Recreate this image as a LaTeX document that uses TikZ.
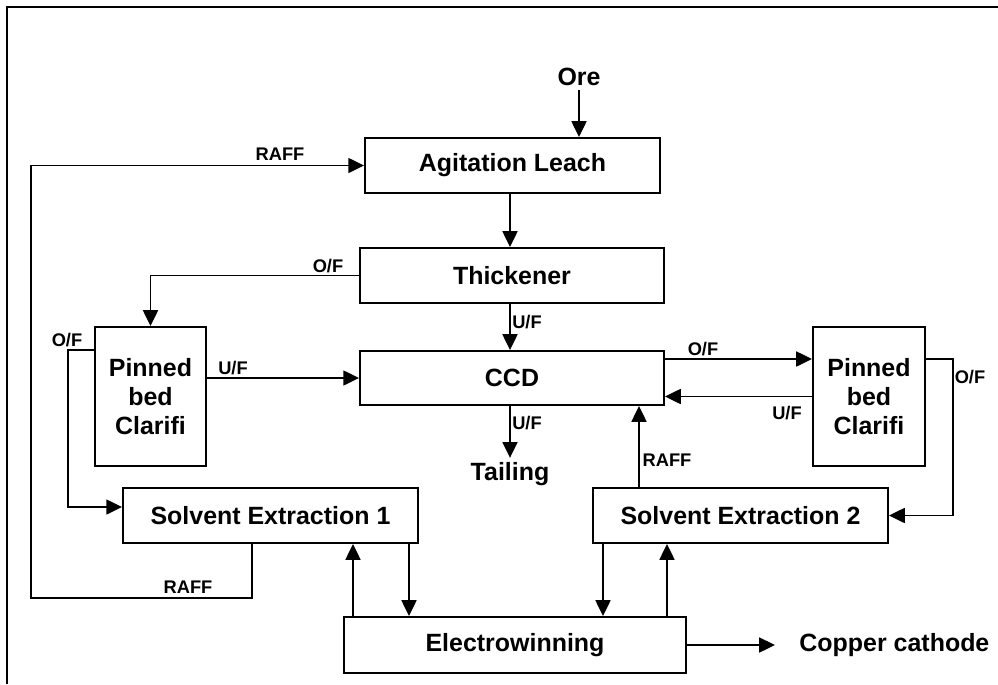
\documentclass[tikz,border=0pt]{standalone}
\usepackage{fontspec}
\setmainfont{Liberation Sans}
\usetikzlibrary{arrows.meta}
\tikzset{
  unit/.style={draw, line width=1.1pt, align=center, inner sep=2pt,
    font=\fontsize{14.2}{16.4}\selectfont\bfseries},
  tag/.style={inner sep=1pt, font=\fontsize{10.4}{12}\selectfont\bfseries},
  flow/.style={line width=1.1pt, -{Triangle[length=9pt,width=8.5pt]}},
  pipe/.style={line width=1.1pt}
}
\begin{document}
\begin{tikzpicture}[x=0.02cm, y=-0.02cm]
  \useasboundingbox (0,0) rectangle (998,684);
  \draw[line width=1.7pt] (7,684) -- (7,7) -- (998,7);
  % process units
  \node[unit, minimum width=5.9cm, minimum height=1.1cm] (leach) at (512.5,165.5) {Agitation Leach};
  \node[unit, minimum width=6.08cm, minimum height=1.1cm] (thick) at (512,275.5) {Thickener};
  \node[unit, minimum width=6.08cm, minimum height=1.08cm] (ccd) at (512,378) {CCD};
  \node[unit, minimum width=2.22cm, minimum height=2.78cm] (pinL) at (150.5,396.5) {Pinned\\bed\\Clarifi};
  \node[unit, minimum width=2.24cm, minimum height=2.78cm] (pinR) at (869,396.5) {Pinned\\bed\\Clarifi};
  \node[unit, minimum width=5.9cm, minimum height=1.1cm] (sx1) at (270.5,515.5) {Solvent Extraction 1};
  \node[unit, minimum width=5.9cm, minimum height=1.1cm] (sx2) at (740.5,515.5) {Solvent Extraction 2};
  \node[unit, minimum width=6.84cm, minimum height=1.12cm] (ew) at (515,645) {Electrowinning};
  % feed and products
  \node[unit, draw=none] (ore) at (579,77) {Ore};
  \node[unit, draw=none] (tail) at (510,474) {Tailing};
  \node[unit, draw=none, anchor=west] (cath) at (795,645) {Copper cathode};
  \coordinate (cathtip) at (775,645);
  % main line
  \draw[flow] (ore.south) -- (ore.south |- leach.north);
  \draw[flow] (leach.south -| 510,0) -- (thick.north -| 510,0);
  \draw[flow] (thick.south -| 510,0) -- (ccd.north -| 510,0);
  \draw[flow] (ccd.south -| 510,0) -- (tail.north -| 510,0);
  % clarifiers
  \draw[flow] (thick.west) -| (pinL.north);
  \draw[flow] (pinL.east |- 0,378) -- (ccd.west);
  \draw[flow] (pinL.west |- 0,350) -| (68,507) -- (sx1.west |- 0,507);
  \draw[flow] (ccd.east |- 0,359) -- (pinR.west |- 0,359);
  \draw[flow] (pinR.west) -- (ccd.east |- pinR.west);
  \draw[flow] (pinR.east |- 0,359) -- (953,359) |- (sx2.east);
  % raffinate
  \draw[flow] (sx1.south -| 252,0) |- (31,598) |- (leach.west);
  \draw[flow] (sx2.north -| 639,0) -- (ccd.south -| 639,0);
  % electrowinning
  \draw[flow] (ew.north -| 353,0) -- (sx1.south -| 353,0);
  \draw[flow] (sx1.south -| 409,0) -- (ew.north -| 409,0);
  \draw[flow] (sx2.south -| 603,0) -- (ew.north -| 603,0);
  \draw[flow] (ew.north -| 667,0) -- (sx2.south -| 667,0);
  \draw[flow] (ew.east) -- (cathtip);
  % stream labels
  \node[tag] (raff1) at (280,154) {RAFF};
  \node[tag] (raff2) at (188,587) {RAFF};
  \node[tag] (raff3) at (667,460) {RAFF};
  \node[tag] (of1) at (328,266) {O/F};
  \node[tag] (of2) at (67,340) {O/F};
  \node[tag] (of3) at (703,349) {O/F};
  \node[tag] (of4) at (970,377) {O/F};
  \node[tag] (uf1) at (527,322) {U/F};
  \node[tag] (uf2) at (527,423) {U/F};
  \node[tag] (uf3) at (233,368) {U/F};
  \node[tag] (uf4) at (787,413) {U/F};
\end{tikzpicture}
\end{document}
